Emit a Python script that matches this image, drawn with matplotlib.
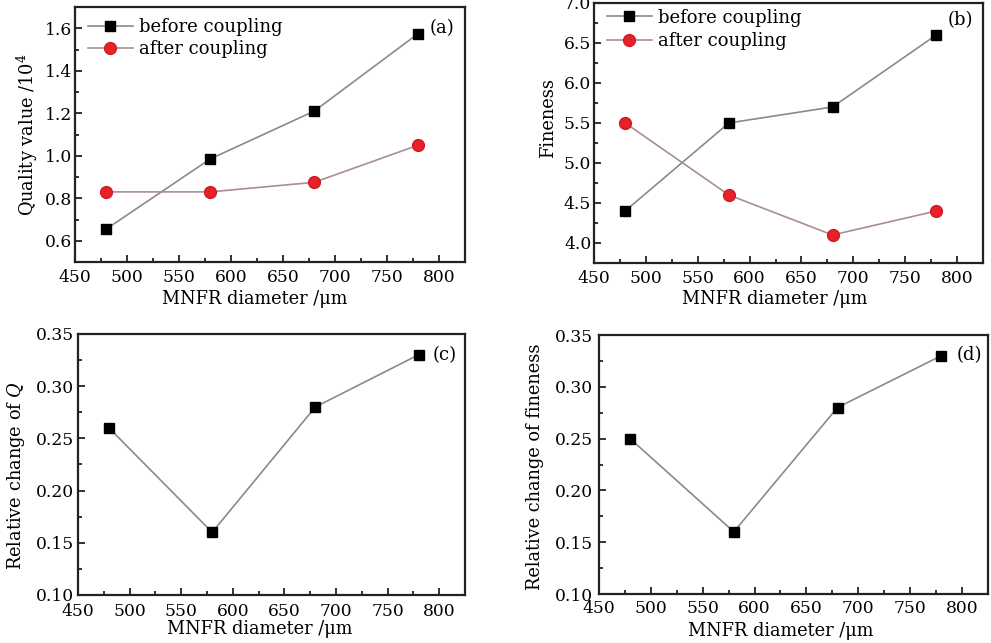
import matplotlib
matplotlib.use("Agg")
import matplotlib.pyplot as plt
from matplotlib.ticker import MultipleLocator, FormatStrFormatter

plt.rcParams['font.family'] = ['DejaVu Serif']
plt.rcParams['mathtext.fontset'] = 'dejavuserif'

diameter = [480, 580, 680, 780]
q_before = [0.655, 0.985, 1.21, 1.575]
q_after = [0.83, 0.83, 0.875, 1.05]
fin_before = [4.4, 5.5, 5.7, 6.6]
fin_after = [5.5, 4.6, 4.1, 4.4]
rel_q = [0.26, 0.16, 0.28, 0.33]
rel_fin = [0.25, 0.16, 0.28, 0.33]

xlabel = "MNFR diameter /\u03bcm"
TFS = 12.3
LFS = 12.8
GFS = 13
gray = '#8a8a8a'
mauve = '#a88e94'
red = '#e8202a'

fig = plt.figure(figsize=(9.91, 6.43), dpi=100)

axes_rects = {
    'a': [0.0757, 0.5925, 0.3935, 0.3966],
    'b': [0.5994, 0.591, 0.3925, 0.4044],
    'c': [0.0787, 0.0747, 0.3905, 0.406],
    'd': [0.6044, 0.0762, 0.3925, 0.4028],
}


def style(ax, ymaj, ymin, fmt, xpad, ypad):
    ax.set_xlim(450, 825)
    ax.xaxis.set_major_locator(MultipleLocator(50))
    ax.xaxis.set_minor_locator(MultipleLocator(25))
    ax.yaxis.set_major_locator(MultipleLocator(ymaj))
    ax.yaxis.set_minor_locator(MultipleLocator(ymin))
    ax.yaxis.set_major_formatter(FormatStrFormatter(fmt))
    ax.tick_params(which='both', direction='in', top=False, right=False, width=1.3, color='#222222')
    ax.tick_params(which='major', length=5)
    ax.tick_params(which='minor', length=3)
    ax.tick_params(axis='x', which='major', pad=xpad, labelsize=TFS)
    ax.tick_params(axis='y', which='major', pad=ypad, labelsize=TFS)
    for s in ax.spines.values():
        s.set_linewidth(1.6)
        s.set_color('#222222')


def panel_label(ax, txt, x, y):
    ax.text(x, y, txt, transform=ax.transAxes, ha='right', va='center', fontsize=GFS)


leg_kw = dict(frameon=False, fontsize=GFS, handlelength=2.5, handletextpad=0.35,
              borderaxespad=0.0, borderpad=0.0)

# (a)
ax = fig.add_axes(axes_rects['a'])
ax.plot(diameter, q_before, '-', color=gray, lw=1.2, marker='s', ms=7.5,
        mfc='black', mec='black', label='before coupling')
ax.plot(diameter, q_after, '-', color=mauve, lw=1.2, marker='o', ms=8.5,
        mfc=red, mec='#d01a22', label='after coupling')
ax.set_ylim(0.5, 1.7)
style(ax, 0.2, 0.1, '%.1f', 5, 2)
ax.set_ylabel("Quality value /10$^4$", fontsize=LFS)
ax.yaxis.set_label_coords(-0.09, 0.5)
ax.set_xlabel(xlabel, fontsize=LFS)
ax.xaxis.set_label_coords(0.46, -0.11)
ax.xaxis.label.set_va('top')
ax.legend(loc='upper left', bbox_to_anchor=(0.033, 0.955), labelspacing=0.2, **leg_kw)
panel_label(ax, '(a)', 0.974, 0.918)

# (b)
ax = fig.add_axes(axes_rects['b'])
ax.plot(diameter, fin_before, '-', color=gray, lw=1.2, marker='s', ms=7.5,
        mfc='black', mec='black', label='before coupling')
ax.plot(diameter, fin_after, '-', color=mauve, lw=1.2, marker='o', ms=8.5,
        mfc=red, mec='#d01a22', label='after coupling')
ax.set_ylim(3.75, 7.0)
style(ax, 0.5, 0.25, '%.1f', 5, 2)
ax.set_ylabel("Fineness", fontsize=LFS)
ax.yaxis.set_label_coords(-0.095, 0.558)
ax.set_xlabel(xlabel, fontsize=LFS)
ax.xaxis.set_label_coords(0.465, -0.104)
ax.xaxis.label.set_va('top')
ax.legend(loc='upper left', bbox_to_anchor=(0.033, 0.978), labelspacing=0.3, **leg_kw)
panel_label(ax, '(b)', 0.974, 0.935)

# (c)
ax = fig.add_axes(axes_rects['c'])
ax.plot(diameter, rel_q, '-', color=gray, lw=1.2, marker='s', ms=7.5,
        mfc='black', mec='black')
ax.set_ylim(0.10, 0.35)
style(ax, 0.05, 0.025, '%.2f', 5.5, 3)
ax.set_ylabel("Relative change of $Q$", fontsize=LFS)
ax.yaxis.set_label_coords(-0.132, 0.456)
ax.set_xlabel(xlabel, fontsize=LFS)
ax.xaxis.set_label_coords(0.47, -0.096)
ax.xaxis.label.set_va('top')
panel_label(ax, '(c)', 0.98, 0.92)

# (d)
ax = fig.add_axes(axes_rects['d'])
ax.plot(diameter, rel_fin, '-', color=gray, lw=1.2, marker='s', ms=7.5,
        mfc='black', mec='black')
ax.set_ylim(0.10, 0.35)
style(ax, 0.05, 0.025, '%.2f', 4.5, 4)
ax.set_ylabel("Relative change of fineness", fontsize=LFS)
ax.yaxis.set_label_coords(-0.141, 0.49)
ax.set_xlabel(xlabel, fontsize=LFS)
ax.xaxis.set_label_coords(0.468, -0.108)
ax.xaxis.label.set_va('top')
panel_label(ax, '(d)', 0.985, 0.923)

fig.savefig('out.png', dpi=100)
